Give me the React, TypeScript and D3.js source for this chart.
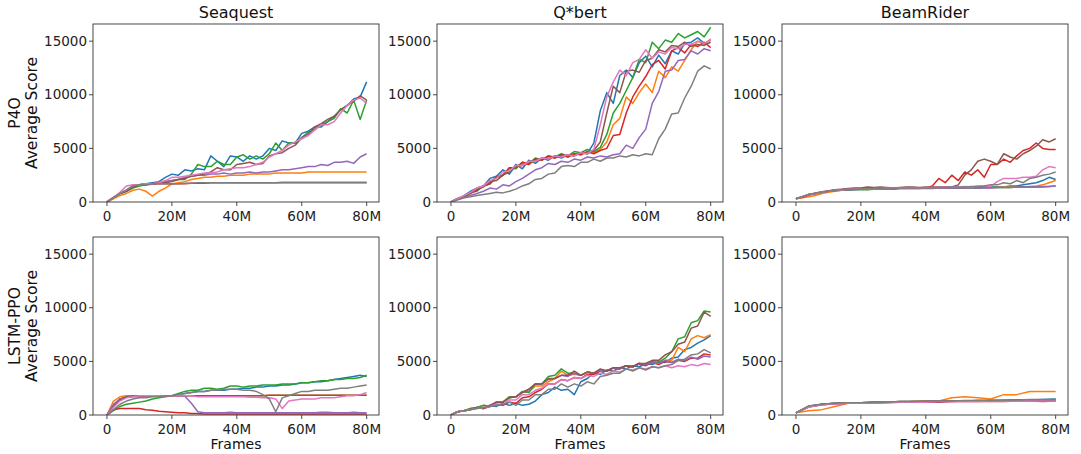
import * as d3 from "d3";

// games (columns) and methods (rows)
const games = ["Seaquest", "Q*bert", "BeamRider"];
const methods = ["P4O", "LSTM-PPO"];
const yTicks = [0, 5000, 10000, 15000];
const xTicks = [0, 20e6, 40e6, 60e6, 80e6];
const xTickLabels = ["0", "20M", "40M", "60M", "80M"];
const colors = ["#1f77b4", "#ff7f0e", "#2ca02c", "#d62728", "#9467bd", "#8c564b", "#e377c2", "#7f7f7f"];

// every series is sampled evenly from 0 to 80M frames
// order: blue, orange, green, red, purple, brown, pink, gray
const seaquestP4O = [
  [0,400,800,1000,1400,1600,1700,1800,1900,2300,2600,2500,3000,2900,3100,3000,4300,3800,3300,4300,4200,3800,4300,4000,4300,5000,4800,5700,5500,5500,6400,6600,7000,7000,7500,8000,8600,9000,9600,9800,11200],
  [0,300,600,800,1100,1200,1000,550,1000,1300,1700,1800,1900,2100,2200,2300,2300,2400,2400,2500,2500,2500,2600,2600,2600,2600,2700,2700,2700,2700,2700,2800,2800,2800,2800,2800,2800,2800,2800,2800,2800],
  [0,400,800,1000,1300,1500,1600,1700,1800,1900,2000,2100,2100,2600,3500,3300,3300,3800,3500,3500,4200,4400,4000,4300,4000,4500,5500,4800,5500,5500,6000,6500,6800,7200,7500,7800,8700,8300,9500,7700,9500],
  [0,400,800,1100,1500,1600,1600,1650,1700,1700,1700,1700,1700,1750,1750,1750,1800,1800,1800,1800,1800,1800,1800,1800,1800,1800,1800,1800,1800,1800,1800,1800,1800,1800,1800,1800,1800,1800,1800,1800,1800],
  [0,400,800,1100,1500,1600,1700,1700,1800,1900,2000,2100,2300,2400,2500,2500,2600,2600,2700,2600,2700,2700,2800,2700,2800,2800,2900,3000,3000,3100,3200,3300,3300,3500,3400,3700,3700,3800,3600,4200,4500],
  [0,400,800,1000,1400,1600,1700,1700,1800,1800,1900,2100,2200,2400,2500,2600,2800,3200,3000,3000,3500,3600,3700,3500,3600,4300,4500,4600,5000,5300,6000,6300,7000,7300,7700,8000,8600,9000,9400,9900,9500],
  [0,400,900,1500,1600,1600,1700,1700,1800,2000,2300,2300,2400,2500,2600,2700,2700,2800,3000,3100,3200,3200,3300,3500,3700,4200,4500,4800,5300,5600,5900,6200,6700,7200,7200,7500,8300,9000,9500,9700,9200],
  [0,400,800,1100,1500,1600,1600,1700,1700,1700,1700,1700,1750,1750,1800,1800,1800,1800,1800,1800,1800,1800,1800,1800,1800,1800,1800,1850,1850,1850,1850,1850,1850,1850,1850,1850,1850,1850,1850,1850,1850],
];

const qbertP4O = [
  [0,300,600,1000,1300,1500,2200,2400,3000,2600,3500,3100,3900,3600,4100,3900,4300,4100,4400,4300,4600,4500,5500,8500,10200,9200,11800,12300,11600,13000,13600,12600,13700,12900,14100,13800,14800,14900,15300,14800,15100],
  [0,300,500,800,1100,1500,1700,2300,2500,3100,3200,3600,3500,4000,3900,4200,4100,4400,4200,4500,4400,4700,4600,4900,5600,7200,7800,9800,9200,10200,11000,10200,12200,11600,12600,12200,13200,14200,15000,14700,15200],
  [0,300,500,900,1000,1500,1700,2400,2500,3200,3100,3700,3600,4100,3900,4300,4200,4500,4300,4700,4600,4900,4700,5100,6300,8300,9200,10400,11600,13300,13000,14900,14300,15100,14900,15700,15300,15600,15900,15400,16300],
  [0,300,500,800,1100,1500,1700,2300,2500,3200,3200,3700,3500,4000,3900,4300,4100,4400,4200,4500,4400,4700,4500,4800,5000,6200,6300,8300,9800,10800,11700,12800,13200,12400,14100,14400,13900,14700,14500,14900,14400],
  [0,200,400,600,800,1000,1300,1200,1600,1500,1900,2200,2600,3000,3200,3600,3500,3800,3700,4000,3900,4200,4100,4300,4200,4400,4500,5300,5000,6000,6800,9200,10300,12200,12300,13200,13300,14100,13800,14300,14100],
  [0,300,500,800,1200,1400,1900,2000,2500,2800,3300,3400,3800,3800,4100,4000,4300,4200,4400,4300,4600,4500,4800,5600,8300,10800,10200,12200,12300,12100,13200,13400,14200,14000,14600,14500,14900,14500,14700,14600,14900],
  [0,300,600,900,1300,1500,2000,2200,2800,2900,3400,3400,3800,3800,4100,4000,4300,4200,4400,4300,4600,4500,4900,7200,9800,11200,12300,11800,13000,13300,14200,13400,14000,13800,14400,14300,14700,14700,15000,14800,15100],
  [0,200,400,500,600,700,800,900,850,1000,1200,1500,1700,2100,2200,2600,2700,3300,3400,3300,3700,3700,4000,3800,4100,4100,4300,4200,4400,4300,4500,4400,5900,6800,8200,8300,9700,10800,12200,12700,12400],
];

const beamP4O = [
  [300,500,700,800,900,1000,1100,1100,1200,1200,1200,1200,1200,1250,1250,1300,1300,1300,1300,1300,1300,1300,1300,1300,1300,1350,1350,1350,1400,1400,1400,1400,1400,1500,1500,1600,1700,1800,2000,2300,2100],
  [300,400,500,600,800,900,1000,1100,1100,1200,1200,1200,1200,1250,1250,1250,1300,1300,1300,1300,1300,1300,1300,1300,1300,1300,1300,1300,1300,1350,1350,1350,1400,1400,1400,1400,1450,1500,1600,1800,2000],
  [300,500,700,800,900,1000,1050,1100,1100,1150,1150,1150,1200,1200,1200,1200,1250,1250,1250,1250,1300,1300,1300,1300,1300,1300,1300,1300,1300,1350,1350,1350,1350,1350,1400,1400,1400,1400,1400,1450,1500],
  [300,450,650,800,900,1000,1100,1100,1200,1200,1200,1200,1200,1200,1250,1250,1300,1300,1300,1300,1300,1500,2200,1800,2500,2000,2800,2500,3000,2300,3500,3500,4000,3700,4300,4800,5000,5500,5000,4900,4900],
  [300,500,700,800,900,1000,1100,1100,1150,1150,1200,1200,1200,1200,1200,1200,1250,1250,1250,1250,1250,1250,1300,1300,1300,1300,1300,1300,1300,1300,1300,1350,1350,1350,1400,1400,1400,1400,1450,1450,1500],
  [300,500,700,850,950,1050,1150,1200,1250,1300,1300,1400,1350,1400,1350,1300,1350,1400,1400,1350,1400,1400,1400,1400,1400,1600,2500,3000,3800,4000,3800,3500,4500,4200,4000,4500,4800,5200,5800,5600,5900],
  [300,500,700,800,900,1000,1100,1100,1200,1200,1200,1200,1250,1250,1300,1300,1300,1300,1300,1300,1350,1350,1350,1350,1400,1400,1450,1400,1500,1500,1450,1900,2200,2200,2200,2300,2300,2400,3000,3300,3200],
  [300,500,700,800,900,1000,1100,1150,1200,1200,1200,1200,1250,1250,1300,1300,1300,1300,1300,1300,1300,1300,1350,1350,1400,1400,1400,1450,1450,1500,1600,1600,1800,1700,2000,1800,2200,2300,2500,2600,2800],
];

const seaquestLSTM = [
  [0,900,1500,1650,1700,1700,1750,1750,1800,1800,1800,1900,2000,2100,2200,2200,2300,2300,2300,2400,2400,2500,2500,2600,2600,2700,2700,2800,2800,2900,3000,3000,3100,3100,3200,3300,3400,3500,3600,3700,3600],
  [0,1300,1700,1800,1800,1800,1800,1800,1800,1800,1800,1800,1800,1800,1800,1800,1800,1800,1800,1800,1800,1800,1800,1800,1800,1850,1850,1850,1850,1850,1850,1850,1850,1850,1850,1850,1850,1850,1850,1850,1850],
  [0,400,800,1000,1100,1200,1300,1500,1600,1700,1800,2000,2200,2300,2300,2500,2500,2400,2500,2700,2700,2600,2700,2700,2800,2800,2800,2900,2900,2900,3000,3000,3100,3200,3200,3300,3300,3400,3400,3500,3700],
  [0,500,600,600,600,600,500,450,350,300,250,200,200,150,150,100,100,100,100,100,100,100,100,100,100,100,100,100,100,100,100,100,100,100,100,100,100,100,100,100,100],
  [0,1000,1500,1700,1800,1800,1800,1800,1800,1800,1800,1800,1750,1100,300,200,200,200,200,250,200,200,200,200,200,200,200,200,200,200,200,200,200,250,250,200,200,200,250,200,200],
  [0,800,1400,1700,1750,1800,1800,1800,1800,1800,1800,1800,1800,1800,1800,1800,1800,1800,1800,1800,1800,1800,1800,1800,1800,1850,1850,1850,1850,1850,1850,1850,1850,1850,1850,1850,1850,1850,1850,1850,1850],
  [0,700,1300,1600,1700,1800,1800,1800,1800,1800,1800,1800,1800,1800,1700,1700,1700,1700,1700,1700,1700,1700,1650,1650,1600,1600,1500,600,1300,1400,1500,1500,1500,1600,1600,1600,1700,1800,1800,1900,2100],
  [0,500,1000,1300,1500,1600,1600,1700,1700,1800,1800,1900,2000,2100,2200,2200,2300,2300,2400,2400,2400,2300,2300,2200,1900,1500,300,1600,1800,2000,2200,2200,2300,2300,2300,2400,2500,2500,2600,2700,2800],
];

const qbertLSTM = [
  [0,300,400,500,700,600,900,800,1100,900,1100,900,1000,1300,1900,2100,2600,2300,2400,1900,3100,3400,3900,3800,4200,4100,4400,4300,4600,4500,4800,4700,5000,4900,5300,5400,6100,6300,6700,7000,7400],
  [0,300,400,600,700,900,800,1200,1200,1700,1700,2100,2200,2700,2700,3100,3400,4100,3700,3800,3700,4000,3900,4200,4100,4400,4300,4600,4500,4800,4700,4900,4800,5100,5100,6300,5900,7100,7400,7200,7500],
  [0,300,400,600,700,900,800,1200,1200,1700,1700,2200,2100,2900,2900,3600,3700,4300,3900,3900,3700,4000,3900,4200,4100,4400,4300,4600,4500,4800,4700,5000,4900,5300,5900,7100,7300,8600,8800,9700,9600],
  [0,300,400,500,700,600,800,1000,900,1200,1100,1600,1700,2100,2400,2900,2900,3300,3200,3500,3400,3800,3800,4100,4100,4400,4300,4600,4500,4800,4600,4900,4700,5000,4900,5100,5000,5300,5300,5700,5600],
  [0,300,400,500,700,600,900,1200,1200,1600,1700,2100,2400,2900,2900,3300,3400,3700,3600,3900,3700,4000,3900,4200,4100,4400,4300,4600,4500,4800,4700,4900,4800,5100,4900,5200,5100,5400,5200,5500,5400],
  [0,300,400,500,700,600,900,1200,1200,1600,1700,2100,2400,2900,2900,3400,3400,3700,3700,4100,3700,4000,3900,4300,4100,4400,4400,4600,4500,4800,4800,5100,5100,5600,5900,6600,6800,8100,8300,9600,9200],
  [0,300,400,500,600,700,800,1000,1000,1400,1400,1900,1900,2300,2500,2900,2900,3300,3200,3500,3400,3700,3600,3900,3800,4100,4000,4300,4200,4400,4300,4500,4400,4600,4400,4600,4500,4700,4600,4800,4700],
  [0,300,400,500,600,700,800,900,1000,1200,900,1400,1400,1900,1900,2400,2400,2900,2600,2900,2700,3100,2900,3600,3700,3900,3900,4300,4100,4400,4200,4500,4400,4600,4700,5100,5200,5600,5700,6100,5800],
];

const beamLSTM = [
  [200,850,1000,1100,1150,1150,1200,1200,1200,1250,1250,1250,1300,1300,1300,1350,1350,1400,1400,1450,1500],
  [200,400,500,800,1100,1100,1150,1200,1200,1250,1300,1300,1600,1700,1600,1500,1900,1900,2200,2200,2200],
  [200,800,1000,1100,1100,1150,1200,1200,1250,1250,1250,1300,1300,1300,1350,1350,1350,1400,1400,1400,1450],
  [200,750,950,1050,1100,1100,1150,1150,1200,1200,1200,1200,1250,1250,1250,1250,1250,1300,1300,1250,1300],
  [200,800,950,1050,1100,1150,1150,1200,1200,1200,1250,1250,1250,1300,1300,1300,1300,1300,1350,1350,1350],
  [200,800,1000,1100,1150,1150,1200,1200,1250,1250,1250,1300,1300,1300,1350,1350,1350,1400,1400,1400,1400],
  [200,750,950,1050,1100,1100,1150,1200,1200,1200,1200,1250,1250,1250,1250,1300,1300,1300,1300,1300,1300],
  [200,850,1000,1100,1150,1150,1200,1200,1250,1250,1300,1300,1300,1350,1350,1350,1400,1400,1450,1450,1450],
];

const panels = [
  [seaquestP4O, qbertP4O, beamP4O],
  [seaquestLSTM, qbertLSTM, beamLSTM],
];

const colLeft = [93, 437, 782];
const rowTop = [24, 237];
const plotW = 286;
const plotH = 178;
const font = "DejaVu Sans, sans-serif";

function Panel({ row, col }: { row: number; col: number }) {
  const left = colLeft[col];
  const top = rowTop[row];
  const x = d3.scaleLinear().domain([-4.3e6, 83.8e6]).range([left, left + plotW]);
  const y = d3.scaleLinear().domain([0, 16600]).range([top + plotH, top]);
  const series = panels[row][col];
  return (
    <g>
      <defs>
        <clipPath id={`clip-${row}-${col}`}>
          <rect x={left} y={top} width={plotW} height={plotH} />
        </clipPath>
      </defs>
      <g clipPath={`url(#clip-${row}-${col})`}>
        {series.map((vals, i) => {
          const idx = d3.scaleLinear().domain([0, vals.length - 1]).range([0, 80e6]);
          const line = d3
            .line<number>()
            .x((_, j) => x(idx(j)))
            .y((d) => y(d));
          return <path key={i} d={line(vals) || ""} fill="none" stroke={colors[i]} strokeWidth={1.5} strokeLinejoin="round" />;
        })}
      </g>
      <rect x={left} y={top} width={plotW} height={plotH} fill="none" stroke="#333" strokeWidth={0.9} />
      {yTicks.map((t) => (
        <g key={t}>
          <line x1={left - 4} x2={left} y1={y(t)} y2={y(t)} stroke="#333" strokeWidth={0.9} />
          <text x={left - 6} y={y(t)} dy="0.35em" textAnchor="end" fontSize={13.5} fontFamily={font} fill="#222">
            {t}
          </text>
        </g>
      ))}
      {xTicks.map((t, i) => (
        <g key={t}>
          <line x1={x(t)} x2={x(t)} y1={top + plotH} y2={top + plotH + 4} stroke="#333" strokeWidth={0.9} />
          <text x={x(t)} y={top + plotH + 19} textAnchor="middle" fontSize={13.5} fontFamily={font} fill="#222">
            {xTickLabels[i]}
          </text>
        </g>
      ))}
      {row === 0 && (
        <text x={left + plotW / 2} y={top - 6} textAnchor="middle" fontSize={16} fontFamily={font} fill="#111">
          {games[col]}
        </text>
      )}
      {row === 1 && (
        <text x={left + plotW / 2} y={top + plotH + 34} textAnchor="middle" fontSize={14} fontFamily={font} fill="#111">
          Frames
        </text>
      )}
      {col === 0 && (
        <text transform={`translate(20, ${top + plotH / 2}) rotate(-90)`} textAnchor="middle" fontSize={15.5} fontFamily={font} fill="#111">
          <tspan x={0} dy={0}>{methods[row]}</tspan>
          <tspan x={0} dy={17}>Average Score</tspan>
        </text>
      )}
    </g>
  );
}

export default function App() {
  return (
    <svg width={1081} height={454} style={{ position: "absolute", left: 0, top: 0, background: "#fff" }}>
      {[0, 1].map((r) => [0, 1, 2].map((c) => <Panel key={`${r}-${c}`} row={r} col={c} />))}
    </svg>
  );
}
